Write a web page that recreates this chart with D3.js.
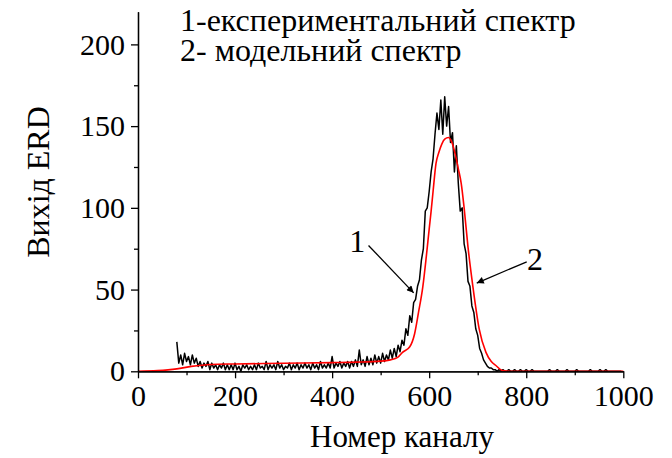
<!DOCTYPE html>
<html>
<head>
<meta charset="utf-8">
<script src="https://cdn.jsdelivr.net/npm/d3@7"></script>
<style>
    body { margin: 0; background: #fff; }
    text { font-family: "Liberation Serif", "Times New Roman", serif; fill: #000; }
</style>
</head>
<body>
<svg id="chart" width="672" height="458"></svg>
<script>
// experimental spectrum, one value every 4 channels starting at channel 80
var expStart = 80;
var expStep = 4;
var expCounts = [
    18, 5, 10, 4, 11, 6, 9, 4, 10, 5,
    8, 3, 6, 2, 5, 3, 6, 1, 5, 2,
    4, 1, 4, 2, 5, 1, 4, 1, 4, 1,
    5, 1, 3, 0, 4, 2, 4, 1, 3, 1,
    4, 1, 5, 2, 3, 1, 6, 1, 4, 2,
    4, 1, 6, 2, 4, 1, 3, 2, 5, 1,
    4, 2, 5, 1, 4, 2, 5, 2, 4, 1,
    5, 2, 4, 1, 6, 2, 4, 2, 5, 2,
    9, 2, 5, 3, 6, 2, 5, 3, 6, 2,
    6, 3, 7, 3, 13, 4, 7, 3, 9, 4,
    8, 4, 10, 5, 9, 5, 11, 6, 10, 7,
    13, 8, 14, 9, 16, 12, 19, 16, 26, 22,
    34, 30, 42, 44, 52, 56, 68, 75, 98, 100,
    110, 122, 130, 145, 158, 148, 166, 145, 168, 150,
    162, 140, 146, 122, 138, 115, 98, 100, 78, 72,
    55, 52, 40, 36, 26, 22, 14, 11, 7, 5,
    3, 2, 2, 1, 1, 0, 1, 0, 1, 0,
    0, 1, 0, 0, 1, 0, 0, 1, 0, 0,
    1, 0, 0, 1, 0, 0, 0, 0, 0, 0,
    0, 0, 1, 0, 0, 0, 1, 0, 0, 0,
    0, 1, 0, 0, 0, 0, 1, 0, 0, 0,
    0, 0, 0, 1, 0, 0, 0, 0, 1, 0,
    0, 1, 0, 0, 0, 0, 0, 0, 0, 0
];

// model spectrum
var modelChannels = [0, 40, 80, 110, 150, 200, 300, 400, 450, 500, 520, 535, 545, 560, 570, 578, 587, 594, 600, 604, 608, 614, 620, 626, 632, 640, 648, 655, 660, 666, 672, 680, 690, 703, 717, 728, 738, 751, 770, 1000];
var modelCounts = [0, 0.4, 1.5, 3, 4.2, 4.5, 4.9, 5.3, 5.6, 6.2, 7, 8.5, 11.6, 15, 23, 36, 52, 70, 87, 98, 110, 127, 134, 139, 142, 143, 139, 131, 124, 115, 100, 76, 52, 26, 11.6, 6, 3.4, 0.4, 0, 0];

var xTicks = [0, 200, 400, 600, 800, 1000];
var xMinorTicks = [100, 300, 500, 700, 900];
var yTicks = [0, 50, 100, 150, 200];
var yMinorTicks = [25, 75, 125, 175];

var legendLines = ["1-експериментальний спектр", "2- модельний спектр"];

// arrows: [label, label channel, label value, from channel, from value, to channel, to value]
var arrowNotes = [
    ["1", 452, 73, 475, 77, 568, 48],
    ["2", 818, 62, 801, 67, 698, 54]
];

var svg = d3.select("#chart");

var x = d3.scaleLinear().domain([0, 1000]).range([138, 623.3]);
var y = d3.scaleLinear().domain([0, 220]).range([371.3, 11.7]);

svg.append("defs").append("marker")
    .attr("id", "head")
    .attr("viewBox", "0 0 10 10")
    .attr("refX", 10)
    .attr("refY", 5)
    .attr("markerWidth", 10)
    .attr("markerHeight", 7)
    .attr("markerUnits", "userSpaceOnUse")
    .attr("orient", "auto")
    .append("path")
    .attr("d", "M0,0 L10,5 L0,10 Z")
    .attr("fill", "#000");

// data lines
var expLine = d3.line()
    .x((d, i) => x(expStart + i * expStep))
    .y((d) => y(d));

svg.append("path")
    .datum(expCounts)
    .attr("d", expLine)
    .attr("fill", "none")
    .attr("stroke", "#000")
    .attr("stroke-width", 1.5)
    .attr("stroke-linejoin", "round");

var modelLine = d3.line()
    .x((d, i) => x(modelChannels[i]))
    .y((d) => y(d))
    .curve(d3.curveMonotoneX);

svg.append("path")
    .datum(modelCounts)
    .attr("d", modelLine)
    .attr("fill", "none")
    .attr("stroke", "#ff0000")
    .attr("stroke-width", 1.6);

// axes
function styleAxis(g) {
    g.selectAll("path, line").attr("stroke", "#000").attr("stroke-width", 1.3);
    g.selectAll("text").style("font-size", "30px").attr("fill", "#000");
}

svg.append("g")
    .attr("transform", `translate(0, ${y(0)})`)
    .call(d3.axisBottom(x).tickValues(xMinorTicks).tickSize(4).tickSizeOuter(0).tickFormat(""))
    .call(styleAxis);

svg.append("g")
    .attr("transform", `translate(0, ${y(0)})`)
    .call(d3.axisBottom(x).tickValues(xTicks).tickSize(7).tickSizeOuter(0).tickPadding(6).tickFormat(d3.format("d")))
    .call(styleAxis);

svg.append("g")
    .attr("transform", `translate(${x(0)}, 0)`)
    .call(d3.axisLeft(y).tickValues(yMinorTicks).tickSize(4).tickSizeOuter(0).tickFormat(""))
    .call(styleAxis);

svg.append("g")
    .attr("transform", `translate(${x(0)}, 0)`)
    .call(d3.axisLeft(y).tickValues(yTicks).tickSize(7).tickSizeOuter(0).tickPadding(6).tickFormat(d3.format("d")))
    .call(styleAxis);

// axis titles
svg.append("text")
    .attr("x", 402)
    .attr("y", 447)
    .attr("text-anchor", "middle")
    .style("font-size", "31px")
    .text("Номер каналу");

svg.append("text")
    .attr("transform", "translate(49, 182) rotate(-90)")
    .attr("text-anchor", "middle")
    .style("font-size", "32px")
    .text("Вихід ERD");

// legend text
svg.selectAll(".legend")
    .data(legendLines)
    .enter()
    .append("text")
    .attr("class", "legend")
    .attr("x", 180)
    .attr("y", (d, i) => 31 + i * 30)
    .style("font-size", "32px")
    .text((d) => d);

// arrow annotations
arrowNotes.forEach(function (a) {
    svg.append("line")
        .attr("x1", x(a[3]))
        .attr("y1", y(a[4]))
        .attr("x2", x(a[5]))
        .attr("y2", y(a[6]))
        .attr("stroke", "#000")
        .attr("stroke-width", 1.3)
        .attr("marker-end", "url(#head)");
    svg.append("text")
        .attr("x", x(a[1]))
        .attr("y", y(a[2]))
        .attr("text-anchor", "middle")
        .style("font-size", "32px")
        .text(a[0]);
});
</script>
</body>
</html>
